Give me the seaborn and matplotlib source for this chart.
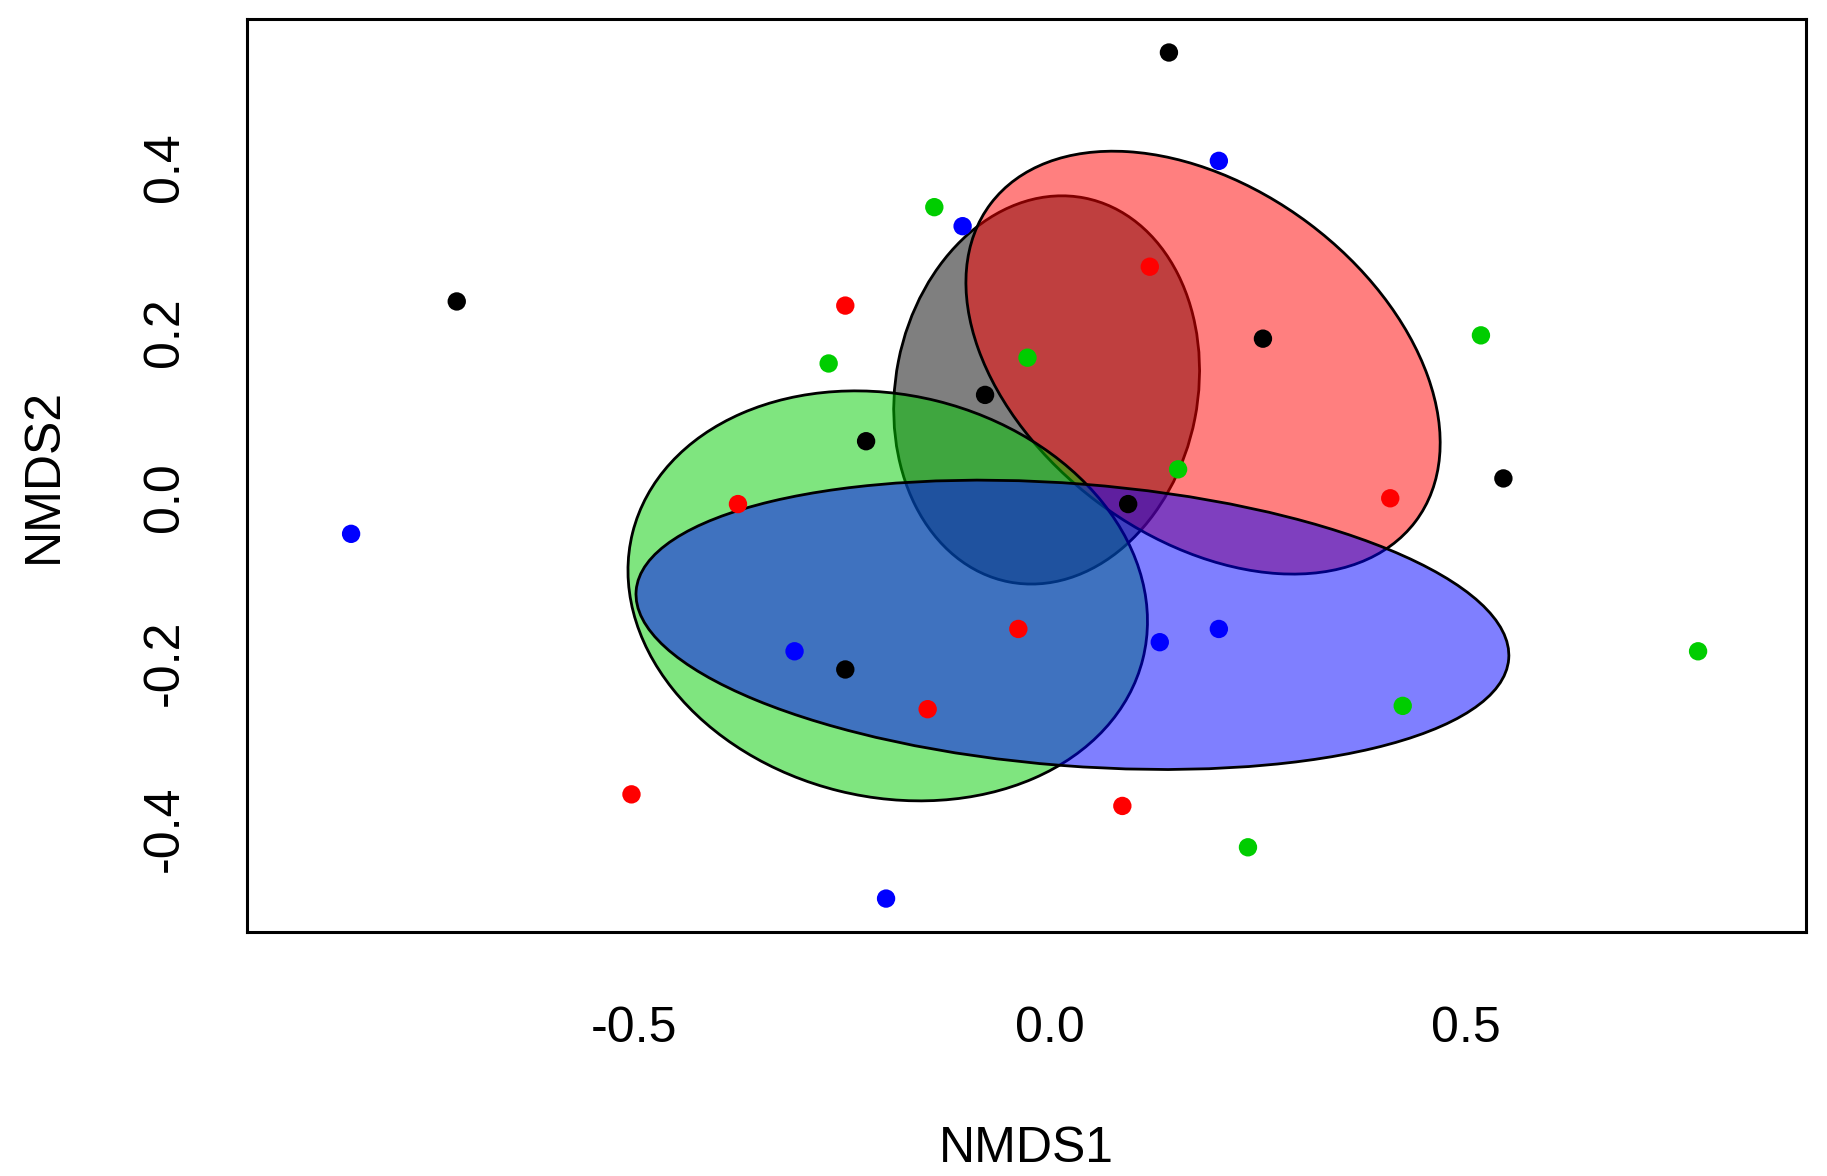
import numpy as np
import pandas as pd
import matplotlib
matplotlib.use("Agg")
import matplotlib.pyplot as plt
from matplotlib.patches import Ellipse
from matplotlib.colors import to_rgba
import seaborn as sns

# NMDS site scores
groups = ["A", "B", "C", "D"]
colors = ["#000000", "#FF0000", "#00CD00", "#0000FF"]

nmds1_a = [0.143, -0.713, 0.256, -0.078, -0.221, 0.545, 0.094, -0.246]
nmds2_a = [0.538, 0.237, 0.192, 0.124, 0.068, 0.023, -0.008, -0.208]

nmds1_b = [-0.246, 0.120, -0.375, 0.409, -0.038, -0.147, -0.503, 0.087]
nmds2_b = [0.232, 0.279, -0.008, -0.001, -0.159, -0.256, -0.359, -0.373]

nmds1_c = [-0.139, -0.266, -0.027, 0.154, 0.518, 0.779, 0.424, 0.238]
nmds2_c = [0.351, 0.162, 0.169, 0.034, 0.196, -0.186, -0.252, -0.423]

nmds1_d = [0.203, -0.105, -0.840, -0.307, 0.132, 0.203, -0.197]
nmds2_d = [0.407, 0.328, -0.044, -0.186, -0.175, -0.159, -0.485]

# group ellipses (centre, full width / height, rotation in degrees)
ell_x = [-0.004, 0.184, -0.195, 0.027]
ell_y = [0.130, 0.163, -0.119, -0.154]
ell_w = [0.473, 0.639, 0.632, 1.052]
ell_h = [0.363, 0.422, 0.486, 0.341]
ell_angle = [79, -37, -14, -4.5]

df = pd.concat([
    pd.DataFrame({"NMDS1": nmds1_a, "NMDS2": nmds2_a, "group": "A"}),
    pd.DataFrame({"NMDS1": nmds1_b, "NMDS2": nmds2_b, "group": "B"}),
    pd.DataFrame({"NMDS1": nmds1_c, "NMDS2": nmds2_c, "group": "C"}),
    pd.DataFrame({"NMDS1": nmds1_d, "NMDS2": nmds2_d, "group": "D"}),
], ignore_index=True)

sns.set_style("white")
plt.rcParams["font.family"] = ["Liberation Sans", "DejaVu Sans"]

fig = plt.figure(figsize=(18.27, 11.76), dpi=100)
ax = fig.add_axes([0.1352, 0.2075, 0.8533, 0.7764])

# ellipses, drawn in group order so later ones sit on top
for i in range(len(groups)):
    e = Ellipse((ell_x[i], ell_y[i]), ell_w[i], ell_h[i], angle=ell_angle[i],
                facecolor=to_rgba(colors[i], 0.5), edgecolor="black",
                linewidth=2.0, zorder=2 + i)
    ax.add_patch(e)

sns.scatterplot(data=df, x="NMDS1", y="NMDS2", hue="group",
                palette=dict(zip(groups, colors)), s=175, linewidth=0,
                legend=False, ax=ax, zorder=10)

ax.set_xlim(-0.9651, 0.9087)
ax.set_ylim(-0.5254, 0.5786)
ax.set_xticks([-0.5, 0.0, 0.5])
ax.set_xticklabels(["-0.5", "0.0", "0.5"])
ax.set_yticks([-0.4, -0.2, 0.0, 0.2, 0.4])
ax.set_yticklabels(["-0.4", "-0.2", "0.0", "0.2", "0.4"])

ax.tick_params(axis="both", direction="out", length=21.5, width=1.8,
               labelsize=36, colors="black")
ax.tick_params(axis="x", pad=32)
ax.tick_params(axis="y", pad=21, labelrotation=90)
for lab in ax.get_yticklabels():
    lab.set_verticalalignment("center")

ax.set_xlabel("NMDS1", fontsize=36, labelpad=53, color="black")
ax.set_ylabel("NMDS2", fontsize=36, labelpad=54, color="black")

for sp in ax.spines.values():
    sp.set_visible(True)
    sp.set_color("black")
    sp.set_linewidth(2.2)

fig.savefig("out.png", dpi=100, facecolor="white")
